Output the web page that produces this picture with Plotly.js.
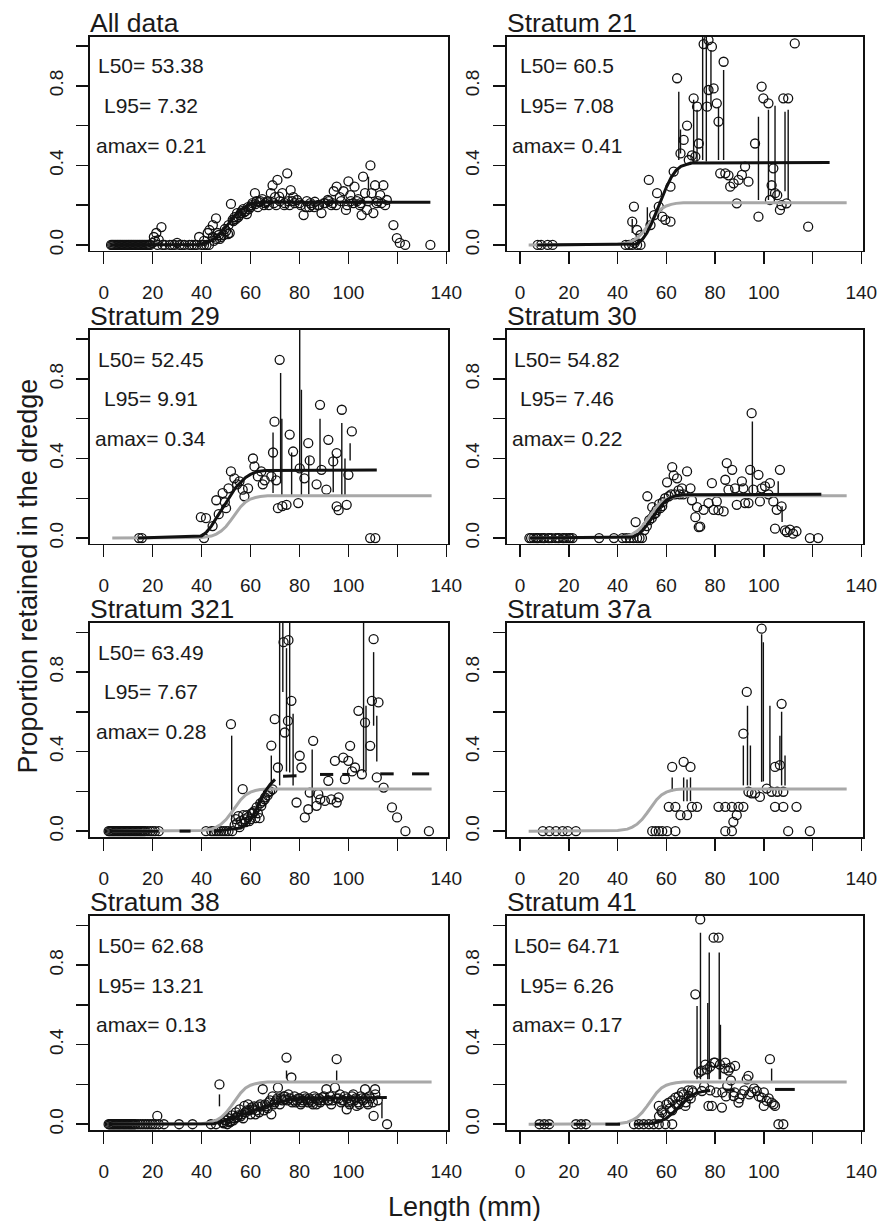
<!DOCTYPE html>
<html>
<head>
<meta charset="utf-8">
<script src="https://cdn.plot.ly/plotly-3.0.1.min.js"></script>
<style>html,body{margin:0;padding:0;background:#fff;}#chart{width:880px;height:1221px;}</style>
</head>
<body>
<div id="chart"></div>
<script>
// ---------------- DATA ----------------
const panelTitles = ["All data", "Stratum 21", "Stratum 29", "Stratum 30", "Stratum 321", "Stratum 37a", "Stratum 38", "Stratum 41"];
const L50Text  = ["53.38", "60.5", "52.45", "54.82", "63.49", "", "62.68", "64.71"];
const L95Text  = ["7.32", "7.08", "9.91", "7.46", "7.67", "", "13.21", "6.26"];
const amaxText = ["0.21", "0.41", "0.34", "0.22", "0.28", "", "0.13", "0.17"];

const xTickVals = [0, 20, 40, 60, 80, 100, 120, 140];
const xTickText = ["0", "20", "40", "60", "80", "100", "", "140"];
const yTickVals = [0, 0.2, 0.4, 0.6, 0.8, 1.0];
const yTickText = ["0.0", "", "0.4", "", "0.8", ""];

// Observed proportions (length, proportion)
const allX = [3,3.5,4,4.5,5,5.5,6,6.5,7,7.5,8,8.5,9,9.5,10,10.5,11,11.5,12,12.5,13,13.5,14,14.5,15,15.5,16,16.5,17,17.5,18,18.5,19,20,21,22,24,25,27,28,29,30,31,32,33,35,36,37,38,40,41,42,43,
  20.5,21.5,22.5,23.6,39,41,42.5,43.2,44.6,44.6,45.9,46.5,47.5,49,50,50.8,51.5,52,52.7,53.5,54.5,55.5,56.5,57.5,58.5,59.3,60,60.8,61.8,62.5,63.5,64.8,66,67,68.3,69,70,71,71.7,73,73.8,75,75.5,76.4,77.5,79,80,81.7,82.5,84,85,86.3,87.5,89,90,91.6,93,94,95.2,96.5,98,99,100,100.8,102.5,103.5,104.7,105.4,106,106.8,107.6,109,109.5,110.2,110.9,112,113,114.3,115.7,118.4,119.8,121,123.2,133.5,
  45,46,47,48,49.5,51,53,54,55,56,57,58,59,60.5,62,63,64,65.5,66.5,67.5,69.5,70.5,72,74,76,77,78,80.5,83,84.5,86,88,90.5,92,93.5,95,97,99.5,101,102,104,105,108,111.5,113.5,115];
const allY = [0,0,0,0,0,0,0,0,0,0,0,0,0,0,0,0,0,0,0,0,0,0,0,0,0,0,0,0,0,0,0,0,0,0.01,0.02,0,0,0,0,0,0,0.01,0,0,0,0,0,0,0,0,0,0,0,
  0.04,0.06,0.025,0.09,0.04,0.02,0.06,0.075,0.1,0.04,0.134,0.06,0.03,0.05,0.07,0.055,0.06,0.206,0.126,0.14,0.16,0.15,0.17,0.165,0.155,0.18,0.19,0.21,0.26,0.22,0.215,0.23,0.21,0.22,0.26,0.30,0.24,0.327,0.243,0.26,0.2,0.36,0.22,0.276,0.24,0.226,0.21,0.15,0.19,0.19,0.2,0.217,0.2,0.16,0.21,0.226,0.2,0.27,0.293,0.24,0.27,0.176,0.32,0.25,0.293,0.22,0.2,0.15,0.343,0.26,0.176,0.40,0.26,0.16,0.30,0.22,0.25,0.30,0.226,0.1,0.034,0.01,0,0,
  0.02,0.03,0.05,0.04,0.08,0.1,0.12,0.13,0.14,0.16,0.18,0.17,0.19,0.2,0.205,0.19,0.22,0.2,0.215,0.2,0.21,0.2,0.22,0.21,0.2,0.22,0.21,0.2,0.22,0.21,0.19,0.2,0.21,0.22,0.21,0.2,0.22,0.2,0.22,0.21,0.23,0.21,0.22,0.21,0.21,0.2];

const s21X = [7.2,8.6,11.3,13.3,43.3,44.7,46,47,48,49.4,46,46.7,48,49.4,52.8,53.5,55,56.2,56.9,58.3,59.6,61.7,61.7,63,64.4,65.8,67.1,68.5,69.2,70.5,71.2,71.9,72.6,73.3,75.3,77.3,77.3,76.7,78.7,79.4,80.7,81.4,83.5,82.1,84.2,85.5,86.2,87.6,88.9,89.6,91,92.3,93.7,96.4,97.8,99.1,99.8,101.9,102.5,103.2,103.9,104.6,105.5,106.6,107.3,108,110,109.3,112.7,118.2];
const s21Y = [0,0,0,0,0,0,0,0.01,0,0,0.117,0.193,0.075,0.05,0.327,0.1,0.15,0.26,0.193,0.142,0.126,0.117,0.293,0.369,0.838,0.46,0.528,0.6,0.427,0.45,0.737,0.444,0.695,0.51,1.01,1.03,0.779,0.695,0.997,0.787,0.712,0.62,0.921,0.36,0.36,0.35,0.293,0.31,0.209,0.327,0.352,0.394,0.318,0.51,0.142,0.796,0.737,0.712,0.226,0.3,0.385,0.26,0.25,0.176,0.2,0.737,0.737,0.209,1.013,0.092];

const s29X = [14.4,15.6,39.7,41.8,41,44.5,46,47,48.6,49.5,50,51,52,53.4,54.5,55.5,56.8,57.5,59,61,61.6,63,64.4,65,65.8,68.5,69.2,69.8,70.5,71.9,71.2,73,74.7,76,77.4,79.5,80.1,82,83.6,84.2,87,88.4,89,91,91.8,93.8,95.2,95.2,96,97.3,99.3,100,101.4,108.9,111];
const s29Y = [0,0,0.105,0.1,0,0.06,0.19,0.12,0.226,0.18,0.15,0.25,0.335,0.30,0.27,0.285,0.243,0.21,0.25,0.40,0.36,0.31,0.335,0.27,0.29,0.31,0.43,0.585,0.29,0.896,0.15,0.16,0.167,0.52,0.435,0.176,0.35,0.3,0.477,0.39,0.27,0.67,0.343,0.243,0.494,0.385,0.427,0.159,0.14,0.645,0.167,0.318,0.536,0,0];

const s30X = [3.8,6.5,8.6,10,11.5,13,14.5,16,17.5,19,20.5,21.5,32.4,38.5,42,43.5,45,46.5,48,49,50,47.4,52.2,54.2,55.6,57,58.3,60.3,62.4,63,64.4,65,66.4,68.5,69.9,70.5,71.9,72.6,73.3,73.9,75.3,77.3,78.7,79.4,80.7,81.4,83.5,84.2,84.8,85.5,87,88.2,88.9,91,91.6,92.3,93.7,94.4,95,95.7,97.8,98.4,99.1,100.5,101.9,102.5,103.9,104.6,105.3,106.6,107.3,108.7,109.4,110.7,112,113.4,118.9,122.3,
  4.5,5.5,7,7.5,9.5,12,15.5,18,20,51,52,53,54,55,56,57.5,58.5,59.5,61,62,63.5,65.5,67];
const s30Y = [0,0,0,0,0,0,0,0,0,0,0,0,0,0,0,0,0,0,0,0,0,0.08,0.21,0.155,0.125,0.17,0.16,0.28,0.357,0.315,0.3,0.24,0.25,0.335,0.25,0.19,0.105,0.155,0.055,0.057,0.142,0.176,0.276,0.142,0.184,0.14,0.134,0.293,0.377,0.243,0.343,0.25,0.167,0.285,0.25,0.176,0.176,0.343,0.628,0.243,0.318,0.184,0.25,0.26,0.22,0.276,0.184,0.047,0.142,0.343,0.159,0.038,0.03,0.042,0.022,0.034,0,0,
  0,0,0,0,0,0,0,0,0,0.04,0.06,0.09,0.1,0.12,0.14,0.15,0.18,0.2,0.21,0.22,0.22,0.22,0.22];

const s321X = [2,2.5,3,3.5,4,4.5,5,5.5,6,6.5,7,7.5,8,8.5,9,9.5,10,10.5,11,11.5,12,12.5,13,13.5,14,14.5,15,15.5,16,16.5,17,18,19,20,21,22.5,41.8,44,45,46,47,48,49,50,51,52.5,
  52,56.8,54,55,56,57,58,59,60,61,62,63.7,64.4,65.8,67.1,68.5,69.9,71.2,73.5,75.5,74,75.3,76.7,78.8,80.1,80.8,82.2,83.6,85.6,84.2,87,87.7,88.5,90.4,91.8,93,94.5,95.2,96,97.9,98.6,100,100.7,101.5,102.7,104.1,105.5,106.8,108.9,109.6,110.3,112.3,111.6,114.4,117.8,119.9,123.3,132.9,
  53.5,54.5,55.5,57.5,58.5,59.5,60.5,61.5,62.5,63,64,65,66,67,68,69];
const s321Y = [0,0,0,0,0,0,0,0,0,0,0,0,0,0,0,0,0,0,0,0,0,0,0,0,0,0,0,0,0,0,0,0,0,0,0,0,0,0,0,0,0,0,0,0,0,0,
  0.538,0.211,0.06,0.075,0.05,0.08,0.045,0.07,0.06,0.09,0.065,0.065,0.127,0.16,0.194,0.43,0.563,0.32,0.95,0.96,0.496,0.554,0.655,0.144,0.379,0.32,0.069,0.11,0.454,0.194,0.127,0.186,0.16,0.152,0.253,0.16,0.353,0.144,0.17,0.37,0.261,0.353,0.429,0.3,0.32,0.605,0.286,0.546,0.429,0.655,0.965,0.647,0.27,0.219,0.119,0.069,0,0,
  0.03,0.04,0.02,0.06,0.08,0.05,0.09,0.1,0.12,0.09,0.14,0.15,0.17,0.18,0.2,0.21];

const s37aX = [9.3,12,14.7,17.4,19.5,22.9,54.2,55.6,56.9,58.3,60.3,63.7,62.4,67.1,69.9,61,63.7,65.8,68.5,70.5,72.6,81.4,84.2,86.9,89.6,91.6,87.5,84.2,86.9,88.9,91.6,93,93.7,95,96.4,98.4,99.1,101.2,103.2,104.6,105.5,106.6,107.3,108,104.6,108,113.4,110,118.9];
const s37aY = [0,0,0,0,0,0,0,0,0,0,0,0,0.323,0.348,0.323,0.122,0.122,0.08,0.08,0.122,0.122,0.122,0.122,0.122,0.122,0.122,0.047,0,0,0.08,0.49,0.7,0.198,0.19,0.19,0.172,1.018,0.214,0.198,0.323,0.198,0.332,0.64,0.198,0.122,0.122,0.122,0,0];

const s38X = [2,2.5,3,3.5,4,4.5,5,5.5,6,6.5,7,7.5,8,8.5,9,9.5,10,10.5,11,11.5,12,12.5,13,14,15,16,17,18,19,20,21,22.5,21.9,24.6,30.8,36.3,43.8,45.9,
  47.3,48.6,49.5,50.5,51,52,52.5,53.5,54,55,55.5,56.5,57.5,58,59,59.5,60.5,61,62,63,64,65,65.5,66.5,67.5,68.5,69.5,70.5,71.2,72.6,73.5,74,74.7,75.5,76.7,77.5,78.5,79.5,80.5,81.5,82.5,83.5,84.5,85.5,86.5,87.5,88.5,89.5,91,92,93,94.5,95.2,96,97,98,99.3,100.5,101.5,102.5,103.4,104.5,105.5,106.8,107.5,108.5,110.3,110.9,112,115.8,
  49,50,51.5,53,54.5,56,57,58.5,60,61.5,62.5,63.5,64.5,66,67,68,69,70,71,72,73,74,75,76,77,78,79,80,81,82,83,84,85,86,87,88,89,90,91.5,92.5,93.5,95,96.5,97.5,98.5,99.5,100,101,102,103,104,105,106,107,108,109,110,111];
const s38Y = [0,0,0,0,0,0,0,0,0,0,0,0,0,0,0,0,0,0,0,0,0,0,0,0,0,0,0,0,0,0,0,0,0.042,0,0,0,0,0,
  0.2,0.01,0.02,0,0.03,0.015,0.045,0.03,0.06,0.045,0.075,0.05,0.092,0.06,0.1,0.07,0.085,0.075,0.05,0.09,0.1,0.176,0.07,0.09,0.11,0.05,0.1,0.12,0.184,0.13,0.14,0.125,0.335,0.15,0.235,0.12,0.11,0.13,0.1,0.12,0.13,0.11,0.12,0.1,0.13,0.12,0.11,0.135,0.176,0.12,0.1,0.184,0.327,0.13,0.11,0.12,0.075,0.1,0.14,0.12,0.092,0.1,0.13,0.176,0.11,0.14,0.042,0.176,0.12,0,
  0.005,0.02,0.01,0.02,0.035,0.04,0.03,0.07,0.05,0.09,0.07,0.06,0.09,0.1,0.08,0.12,0.14,0.11,0.13,0.1,0.12,0.14,0.12,0.13,0.11,0.14,0.12,0.13,0.11,0.14,0.12,0.13,0.11,0.14,0.1,0.13,0.12,0.14,0.12,0.14,0.12,0.13,0.15,0.12,0.14,0.13,0.11,0.12,0.15,0.13,0.11,0.14,0.12,0.13,0.1,0.13,0.11,0.15];

const s41X = [7.9,9.9,11.9,22.9,25,27,46.7,48.7,50.7,52.8,54.8,56.9,59.6,62.4,
  56.9,58.3,59.6,61,62.4,63.7,65,66.4,67.8,69.2,70.5,71.9,73.3,73.9,74.6,76.7,77.3,78.7,79.4,81.4,80,82.8,84.2,85,86.2,87.6,88.2,89.6,91,93,93.7,95,97.1,99.1,100,101.2,102.5,103.2,104.6,106,108,
  74.5,76,78,79.5,82,84,85.5,57,58,60,61.5,62.5,64,65,66,67,68,69,70,71,75.5,78,80.5,83,84.5,86.5,88,90,92,94,96,98,100,102,104];
const s41Y = [0,0,0,0,0,0,0,0,0,0,0,0,0,0,
  0.092,0.06,0.05,0.109,0.07,0.134,0.1,0.16,0.092,0.142,0.17,0.653,0.26,1.03,0.167,0.276,0.092,0.092,0.938,0.938,0.31,0.084,0.31,0.193,0.285,0.142,0.293,0.109,0.151,0.226,0.243,0.16,0.167,0.134,0.092,0.117,0.327,0.109,0.092,0,0,
  0.27,0.3,0.29,0.31,0.3,0.28,0.27,0.04,0.07,0.1,0.08,0.12,0.1,0.14,0.12,0.15,0.11,0.17,0.13,0.16,0.19,0.17,0.16,0.16,0.14,0.22,0.16,0.13,0.17,0.15,0.18,0.14,0.16,0.13,0.1];

// Vertical segments drawn on the panels (length, upper end, lower end)
const allSegX = [108.2];
const allSegTop = [0.343];
const allSegBot = [0.276];
const s21SegX = [46, 52.2, 65.1, 65.8, 71.2, 72.6, 74.9, 76.4, 78.3, 81.4, 83.5, 97.8, 101.9, 104.6, 108.7, 110];
const s21SegTop = [0.13, 0.19, 0.77, 0.58, 0.73, 0.68, 1.05, 1.05, 0.98, 0.695, 0.88, 0.645, 0.68, 0.70, 0.67, 0.68];
const s21SegBot = [0.06, 0.09, 0.427, 0.46, 0.41, 0.42, 0.427, 0.42, 0.695, 0.427, 0.427, 0.226, 0.226, 0.226, 0.27, 0.226];
const s29SegX = [69.2, 72.3, 72.8, 76.8, 80.1, 80.8, 83.8, 88.4, 93.8, 97.3, 98.6, 100.7];
const s29SegTop = [0.53, 0.83, 0.6, 0.43, 1.06, 0.745, 0.41, 0.6, 0.42, 0.578, 0.40, 0.477];
const s29SegBot = [0.226, 0.276, 0.21, 0.21, 0.343, 0.21, 0.22, 0.343, 0.23, 0.21, 0.21, 0.39];
const s30SegX = [95.3, 105.9, 107.5];
const s30SegTop = [0.586, 0.285, 0.16];
const s30SegBot = [0.226, 0.21, 0.08];
const s321SegX = [52.3, 68.5, 71.9, 73.2, 74.7, 76, 77.4, 85.2, 106.2, 107.2, 110.3, 111.6];
const s321SegTop = [0.48, 0.38, 1.05, 1.05, 0.92, 1.05, 0.59, 0.41, 1.05, 0.63, 0.90, 0.58];
const s321SegBot = [0.06, 0.23, 0.23, 0.70, 0.3, 0.295, 0.23, 0.10, 0.295, 0.3, 0.53, 0.35];
const s37aSegX = [62.4, 67.1, 68.5, 69.9, 91.6, 93.3, 94.5, 99.1, 99.8, 102.5, 106.6, 107.3, 108.7];
const s37aSegTop = [0.27, 0.27, 0.26, 0.27, 0.43, 0.63, 0.43, 0.99, 0.95, 0.63, 0.48, 0.60, 0.38];
const s37aSegBot = [0.2, 0.15, 0.15, 0.15, 0.23, 0.23, 0.23, 0.248, 0.25, 0.23, 0.33, 0.23, 0.23];
const s38SegX = [47.3, 74.7, 95.2, 113.7];
const s38SegTop = [0.15, 0.27, 0.27, 0.11];
const s38SegBot = [0.09, 0.23, 0.22, 0.03];
const s41SegX = [72.6, 74, 77, 77.6, 81.7, 82.2, 103.2];
const s41SegTop = [0.595, 0.963, 0.61, 0.863, 0.863, 0.5, 0.28];
const s41SegBot = [0.226, 0.226, 0.226, 0.226, 0.226, 0.226, 0.21];

// Fitted selectivity curves as drawn (null = gap in the drawn line)
const allFitX = [3, 39, 42, 44.5, 47.3, 50, 52, 54, 56.8, 59.6, 62.3, 66, 133.5];
const allFitY = [0, 0.002, 0.012, 0.025, 0.055, 0.09, 0.12, 0.15, 0.182, 0.203, 0.212, 0.215, 0.215];
const grayFitX = [3.5, 40, 44, 46, 48, 50, 52, 54, 56, 58, 60, 62, 64, 67, 134];
const grayFitY = [0, 0.003, 0.01, 0.02, 0.035, 0.058, 0.09, 0.125, 0.158, 0.182, 0.196, 0.204, 0.209, 0.212, 0.212];
const s21FitX = [7, 48, 50, 52, 54, 56, 58, 60, 62, 64, 66, 68, 70, 127];
const s21FitY = [0, 0.005, 0.025, 0.06, 0.11, 0.17, 0.23, 0.29, 0.34, 0.375, 0.395, 0.405, 0.412, 0.414];
const s29FitX = [14, 40, 42, 44, 46, 48, 50, 52, 54, 56, 58, 60, 63, 66, 111.6];
const s29FitY = [0, 0.01, 0.03, 0.06, 0.1, 0.14, 0.18, 0.22, 0.255, 0.28, 0.305, 0.32, 0.335, 0.34, 0.342];
const s30FitX = [3.8, 46, 48, 50, 52, 54, 56, 58, 60, 62, 64, 67, 123.6];
const s30FitY = [0, 0.005, 0.015, 0.035, 0.065, 0.1, 0.135, 0.165, 0.19, 0.205, 0.213, 0.218, 0.22];
const s321FitX = [2.5, 22.5, null, 31, 35.5, null, 45, 56, 58, 60, 62, 64, 66, 68, 70, null, 73.3, 78.8, null, 88.4, 93.8, null, 97.5, 100.5, null, 113, 118.5, null, 126, 133];
const s321FitY = [0, 0, null, 0, 0, null, 0, 0.015, 0.03, 0.06, 0.1, 0.15, 0.2, 0.235, 0.26, null, 0.276, 0.278, null, 0.285, 0.285, null, 0.285, 0.285, null, 0.288, 0.288, null, 0.288, 0.288];
const s38FitX = [2, 45, 48, 52, 56, 60, 64, 68, 72, 76, 80, 115.7];
const s38FitY = [0, 0.003, 0.012, 0.028, 0.045, 0.062, 0.08, 0.097, 0.112, 0.124, 0.13, 0.135];
const s41FitX = [6, 13, null, 22, 27, null, 35, 41, null, 47, 54, 57, 60, 63, 66, 69, 72, 75, 78, null, 84, 88, null, 104.6, 112.7];
const s41FitY = [0, 0, null, 0, 0, null, 0, 0, null, 0, 0.004, 0.012, 0.03, 0.06, 0.1, 0.135, 0.155, 0.165, 0.17, null, 0.172, 0.172, null, 0.175, 0.175];

// --------------- BUILD ---------------
const panels = [
  {x: allX,  y: allY,  sx: allSegX,  st: allSegTop,  sb: allSegBot,  fx: allFitX,  fy: allFitY,  gray: false},
  {x: s21X,  y: s21Y,  sx: s21SegX,  st: s21SegTop,  sb: s21SegBot,  fx: s21FitX,  fy: s21FitY,  gray: true},
  {x: s29X,  y: s29Y,  sx: s29SegX,  st: s29SegTop,  sb: s29SegBot,  fx: s29FitX,  fy: s29FitY,  gray: true},
  {x: s30X,  y: s30Y,  sx: s30SegX,  st: s30SegTop,  sb: s30SegBot,  fx: s30FitX,  fy: s30FitY,  gray: true},
  {x: s321X, y: s321Y, sx: s321SegX, st: s321SegTop, sb: s321SegBot, fx: s321FitX, fy: s321FitY, gray: true},
  {x: s37aX, y: s37aY, sx: s37aSegX, st: s37aSegTop, sb: s37aSegBot, fx: null,     fy: null,     gray: true},
  {x: s38X,  y: s38Y,  sx: s38SegX,  st: s38SegTop,  sb: s38SegBot,  fx: s38FitX,  fy: s38FitY,  gray: true},
  {x: s41X,  y: s41Y,  sx: s41SegX,  st: s41SegTop,  sb: s41SegBot,  fx: s41FitX,  fy: s41FitY,  gray: true}
];

const W = 880, H = 1221;
const colX = [[90, 448], [506.5, 863]];
const rowTop = [36.7, 329.8, 622.9, 916];
const boxH = 214;
const FONT = "Liberation Sans, Arial, Helvetica, sans-serif";
const TXT = "#1a1a1a";

const traces = [];
const layout = {
  width: W, height: H,
  margin: {l: 0, r: 0, t: 0, b: 0},
  paper_bgcolor: "#ffffff", plot_bgcolor: "#ffffff",
  showlegend: false,
  font: {family: FONT, color: TXT, size: 19},
  annotations: []
};

panels.forEach((p, i) => {
  const row = Math.floor(i / 2), col = i % 2;
  const n = i === 0 ? "" : String(i + 1);
  const xa = "x" + n, ya = "y" + n;
  const x0 = colX[col][0] / W, x1 = colX[col][1] / W;
  const yTop = 1 - rowTop[row] / H, yBot = 1 - (rowTop[row] + boxH) / H;

  layout["xaxis" + n] = {
    domain: [x0, x1], anchor: ya, range: [-5.6, 140.7],
    tickvals: xTickVals, ticktext: xTickText,
    ticks: "outside", ticklen: 12, tickwidth: 1.5, tickcolor: "#111",
    showline: true, mirror: true, linecolor: "#111", linewidth: 1.6,
    showgrid: false, zeroline: false, fixedrange: true,
    tickfont: {family: FONT, size: 19, color: TXT}, ticklabelstandoff: 12
  };
  layout["yaxis" + n] = {
    domain: [yBot, yTop], anchor: xa, range: [-0.029, 1.047],
    tickvals: yTickVals, ticktext: yTickText, tickangle: -90,
    ticks: "outside", ticklen: 12, tickwidth: 1.5, tickcolor: "#111",
    showline: true, mirror: true, linecolor: "#111", linewidth: 1.6,
    showgrid: false, zeroline: false, fixedrange: true,
    tickfont: {family: FONT, size: 19, color: TXT}, ticklabelstandoff: 6
  };

  // vertical segments
  const segXs = [], segYs = [];
  p.sx.forEach((v, k) => { segXs.push(v, v, null); segYs.push(p.st[k], p.sb[k], null); });
  traces.push({type: "scatter", mode: "lines", x: segXs, y: segYs, xaxis: xa, yaxis: ya,
    line: {color: "#111", width: 1.4}, hoverinfo: "skip"});

  // observed points
  traces.push({type: "scatter", mode: "markers", x: p.x, y: p.y, xaxis: xa, yaxis: ya,
    marker: {symbol: "circle-open", size: 9, color: "#111", line: {width: 1.3}}});

  // gray all-data curve
  if (p.gray) {
    traces.push({type: "scatter", mode: "lines", x: grayFitX, y: grayFitY, xaxis: xa, yaxis: ya,
      line: {color: "#a8a8a8", width: 3}, hoverinfo: "skip"});
  }
  // black fitted curve
  if (p.fx) {
    traces.push({type: "scatter", mode: "lines", x: p.fx, y: p.fy, xaxis: xa, yaxis: ya,
      connectgaps: false, line: {color: "#111", width: 3}, hoverinfo: "skip"});
  }

  // panel title
  layout.annotations.push({xref: "paper", yref: "paper", x: x0, y: yTop, xanchor: "left", yanchor: "bottom",
    yshift: -3, xshift: -2, text: panelTitles[i], showarrow: false, font: {family: FONT, size: 26.5, color: TXT}});

  // statistics text
  if (L50Text[i]) {
    const stats = ["L50= " + L50Text[i], "L95= " + L95Text[i], "amax= " + amaxText[i]];
    const ys = [0.9, 0.7, 0.5];
    stats.forEach((s, k) => layout.annotations.push({xref: xa, yref: ya, x: 19.3, y: ys[k],
      xanchor: "center", yanchor: "middle", text: s, showarrow: false, font: {family: FONT, size: 21, color: TXT}}));
  }
});

// shared axis titles
layout.annotations.push({xref: "paper", yref: "paper", x: 27.5 / W, y: 1 - 576 / H, xanchor: "center", yanchor: "middle",
  textangle: -90, text: "Proportion retained in the dredge", showarrow: false, font: {family: FONT, size: 27, color: TXT}});
layout.annotations.push({xref: "paper", yref: "paper", x: 464.7 / W, y: 1 - 1207 / H, xanchor: "center", yanchor: "middle",
  text: "Length (mm)", showarrow: false, font: {family: FONT, size: 27, color: TXT}});

Plotly.newPlot("chart", traces, layout, {displayModeBar: false, staticPlot: true});
</script>
</body>
</html>
